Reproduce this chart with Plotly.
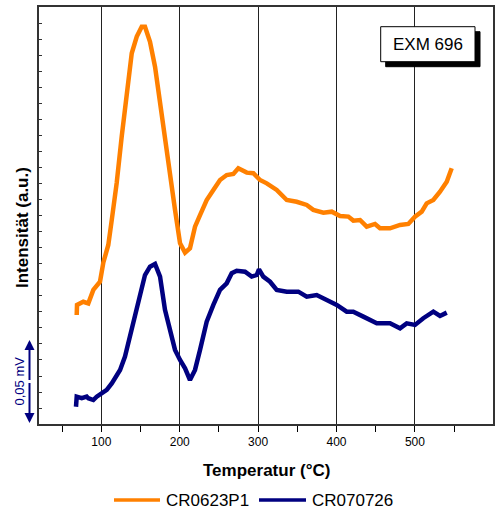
import plotly.graph_objects as go

# Temperature (°C) and intensity (units of 0.01 mV, arbitrary offset)
t_cr0623p1 = [68.6, 69.0, 77.0, 83.4, 89.8, 98.3, 102.6, 108.9, 113.3, 119.6, 126.0, 132.4, 138.8,
              145.2, 151.5, 155.7, 162.1, 168.5, 174.9, 181.2, 187.6, 194.0, 200.4, 206.8, 213.1,
              219.5, 225.9, 234.4, 242.9, 251.4, 259.9, 268.4, 274.7, 285.5, 293.9, 302.4, 311.0,
              323.7, 336.5, 349.2, 362.0, 370.4, 383.2, 393.9, 404.5, 415.1, 421.4, 430.0, 438.5,
              449.1, 455.5, 468.2, 481.0, 491.6, 500.1, 508.7, 515.0, 523.5, 532.0, 540.6, 546.9]
i_cr0623p1 = [6.81, 7.44, 7.64, 7.54, 8.38, 8.89, 10.1, 11.19, 12.75, 15.06, 17.96, 20.67, 23.17,
              24.21, 24.83, 24.83, 23.89, 22.33, 20.04, 17.54, 15.25, 13.38, 11.29, 10.71, 10.98,
              12.33, 13.06, 14.0, 14.63, 15.25, 15.56, 15.63, 15.98, 15.71, 15.67, 15.25, 15.04,
              14.63, 14.0, 13.89, 13.69, 13.38, 13.21, 13.27, 13.0, 12.96, 12.71, 12.75, 12.33,
              12.5, 12.23, 12.23, 12.44, 12.5, 12.96, 13.27, 13.79, 14.0, 14.52, 15.14, 15.98]

t_cr070726 = [67.7, 68.6, 75.0, 81.4, 83.4, 89.8, 94.1, 100.5, 106.9, 113.3, 123.9, 130.2, 136.6,
              143.0, 149.4, 155.7, 162.1, 168.5, 174.9, 181.2, 187.6, 194.0, 200.4, 206.8, 213.1,
              219.5, 225.9, 234.4, 242.9, 251.4, 259.9, 266.3, 272.7, 283.3, 291.8, 298.2, 301.1,
              306.6, 315.2, 323.7, 336.5, 351.3, 362.0, 374.7, 387.5, 400.3, 413.0, 421.4, 434.2,
              451.3, 468.2, 481.0, 489.5, 500.1, 510.7, 523.5, 532.0, 540.6]
i_cr070726 = [1.08, 1.71, 1.61, 1.71, 1.61, 1.5, 1.71, 1.92, 2.13, 2.54, 3.38, 4.21, 5.46,
              6.71, 8.17, 9.31, 9.83, 10.0, 9.21, 7.13, 5.88, 4.63, 4.0, 3.48, 2.75,
              3.38, 4.63, 6.39, 7.44, 8.38, 8.79, 9.42, 9.58, 9.52, 9.21, 9.31, 9.67,
              9.21, 8.89, 8.38, 8.27, 8.27, 7.96, 8.06, 7.75, 7.44, 7.02, 7.02, 6.71,
              6.29, 6.29, 5.98, 6.29, 6.19, 6.61, 7.02, 6.75, 6.96]

series_names = ["CR0623P1", "CR070726"]
series_colors = ["#FF8000", "#000080"]
x_tick_vals = [100, 200, 300, 400, 500, 600]
x_tick_text = ["100", "200", "300", "400", "500", "600"]
x_title = "Temperatur (°C)"
y_title = "Intensität (a.u.)"
scale_bar_label = "0,05 mV"
scale_bar_low, scale_bar_high = 0.06, 5.25
box_label = "EXM 696"

FONT = "Liberation Sans, Arial, sans-serif"
W, H = 502, 511
ML, MR, MT, MB = 39, 9, 7, 87
PLOT_W = W - ML - MR
PLOT_H = H - MT - MB
Y_RANGE = [0, 26.06]


def px_x(p):  # pixel x -> paper
    return (p - ML) / PLOT_W


def px_y(p):  # pixel y -> paper
    return (H - MB - p) / PLOT_H


fig = go.Figure()
for t, v, name, col in [(t_cr0623p1, i_cr0623p1, series_names[0], series_colors[0]),
                        (t_cr070726, i_cr070726, series_names[1], series_colors[1])]:
    fig.add_trace(go.Scatter(x=t, y=v, mode="lines", name=name, showlegend=False,
                             line=dict(color=col, width=4.5)))

fig.update_layout(
    width=W, height=H,
    margin=dict(l=ML, r=MR, t=MT, b=MB, autoexpand=False),
    paper_bgcolor="white", plot_bgcolor="white",
    font=dict(family=FONT, color="black", size=12),
    showlegend=False,
)

fig.update_xaxes(
    range=[20.5, 599.6], tickvals=x_tick_vals, ticktext=x_tick_text,
    ticks="outside", ticklen=6, tickcolor="black", tickwidth=1,
    minor=dict(dtick=50, tick0=0, ticks="outside", ticklen=6, tickcolor="black", showgrid=False),
    showgrid=True, gridcolor="#222222", gridwidth=1,
    showline=True, linecolor="#333333", linewidth=1.5, mirror=True,
    zeroline=False, tickfont=dict(size=12, family=FONT), automargin=False,
)
fig.update_yaxes(
    range=Y_RANGE, dtick=1, tick0=0, ticks="inside", ticklen=3, tickcolor="#333333",
    showticklabels=False, showgrid=False, zeroline=False, automargin=False,
    showline=True, linecolor="#333333", linewidth=1.5, mirror=True,
)

# axis titles
fig.add_annotation(text="<b>" + x_title + "</b>", xref="paper", yref="paper",
                   x=0.5, y=px_y(470), showarrow=False,
                   font=dict(size=17, family=FONT), xanchor="center", yanchor="middle")
fig.add_annotation(text="<b>" + y_title + "</b>", xref="paper", yref="paper",
                   x=px_x(22), y=px_y(228), textangle=-90, showarrow=False,
                   font=dict(size=17, family=FONT), xanchor="center", yanchor="middle")

# legend drawn manually (line sample + label)
legend_items = [(114, 160, 164), (259, 306, 310)]
for (x0, x1, xt), name, col in zip(legend_items, series_names, series_colors):
    fig.add_shape(type="line", xref="paper", yref="paper", x0=px_x(x0), x1=px_x(x1),
                  y0=px_y(500), y1=px_y(500), line=dict(color=col, width=3.5))
    fig.add_annotation(text=name, xref="paper", yref="paper", x=px_x(xt), y=px_y(500),
                       showarrow=False, xanchor="left", yanchor="middle",
                       font=dict(size=17, family=FONT))

# scale bar (double arrow)
mid = (scale_bar_low + scale_bar_high) / 2
half_px = (scale_bar_high - scale_bar_low) / 2 * PLOT_H / (Y_RANGE[1] - Y_RANGE[0])
for target, off in ((scale_bar_high, half_px), (scale_bar_low, -half_px)):
    fig.add_annotation(x=px_x(29.5), y=target, xref="paper", yref="y", ax=0, ay=off,
                       axref="pixel", ayref="pixel", text="", showarrow=True,
                       arrowhead=2, arrowsize=1, arrowwidth=2, arrowcolor="#000080")
fig.add_annotation(text=scale_bar_label, xref="paper", yref="y", x=px_x(20), y=mid,
                   textangle=-90, showarrow=False, font=dict(size=13, color="#000080", family=FONT),
                   xanchor="center", yanchor="middle")

# EXM 696 label box with shadow
fig.add_shape(type="rect", xref="paper", yref="paper", x0=px_x(385.7), x1=px_x(480),
              y0=px_y(66.7), y1=px_y(31.7),
              fillcolor="black", line=dict(color="black", width=1), layer="above")
fig.add_shape(type="rect", xref="paper", yref="paper", x0=px_x(380.7), x1=px_x(475),
              y0=px_y(61.7), y1=px_y(26.7),
              fillcolor="white", line=dict(color="black", width=1), layer="above")
fig.add_annotation(text=box_label, xref="paper", yref="paper", x=px_x(428), y=px_y(44),
                   showarrow=False, font=dict(size=17, family=FONT),
                   xanchor="center", yanchor="middle")

fig.write_html("out.html", config={"displayModeBar": False},
               post_script="document.body.style.margin='0';document.body.style.overflow='hidden';")
